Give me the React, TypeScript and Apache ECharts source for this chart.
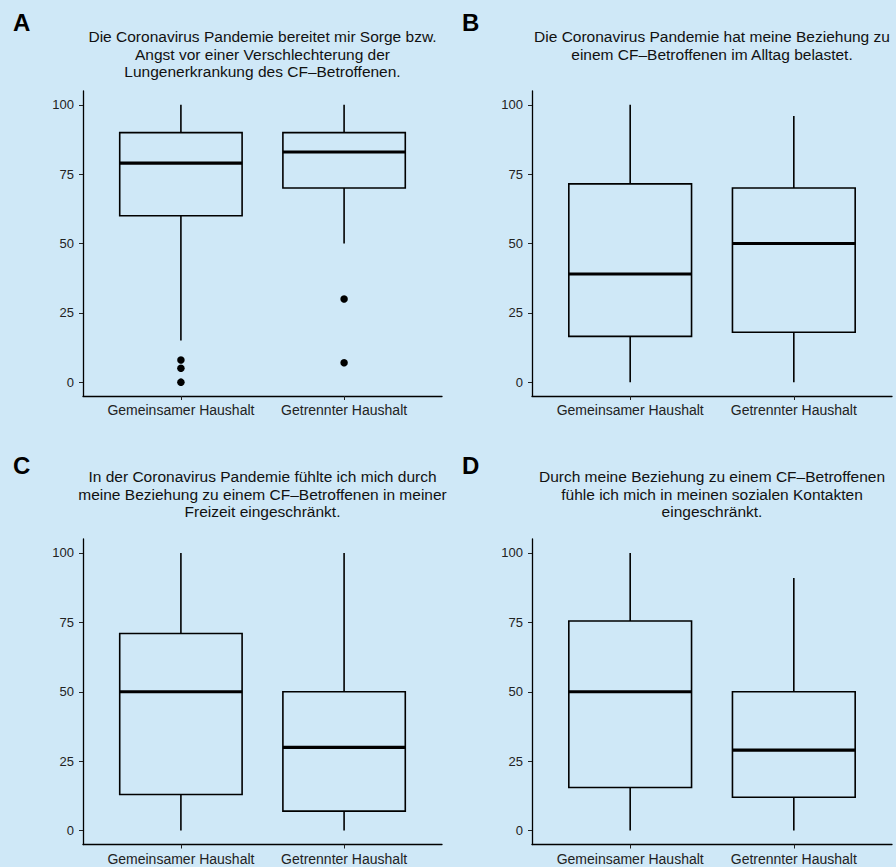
import React, { useEffect, useRef } from 'react';
import * as echarts from 'echarts';

const categories = ['Gemeinsamer Haushalt', 'Getrennter Haushalt'];
const yTicks = [0, 25, 50, 75, 100];
const xTicks = [1, 2];

const panelLetters = ['A', 'B', 'C', 'D'];
const panelTitles = [
  'Die Coronavirus Pandemie bereitet mir Sorge bzw.\nAngst vor einer Verschlechterung der\nLungenerkrankung des CF–Betroffenen.',
  'Die Coronavirus Pandemie hat meine Beziehung zu\neinem CF–Betroffenen im Alltag belastet.',
  'In der Coronavirus Pandemie fühlte ich mich durch\nmeine Beziehung zu einem CF–Betroffenen in meiner\nFreizeit eingeschränkt.',
  'Durch meine Beziehung zu einem CF–Betroffenen\nfühle ich mich in meinen sozialen Kontakten\neingeschränkt.',
];

// [lower whisker, Q1, median, Q3, upper whisker] per category
const boxesA = [[15, 60, 79, 90, 100], [50, 70, 83, 90, 100]];
const boxesB = [[0, 16.5, 39, 71.5, 100], [0, 18, 50, 70, 96]];
const boxesC = [[0, 13, 50, 71, 100], [0, 7, 30, 50, 100]];
const boxesD = [[0, 15.5, 50, 75.5, 100], [0, 12, 29, 50, 91]];

// [category position, value]
const outliersA = [[1, 8], [1, 5], [1, 0], [2, 30], [2, 7]];
const outliersB: number[][] = [];
const outliersC: number[][] = [];
const outliersD: number[][] = [];

const allBoxes = [boxesA, boxesB, boxesC, boxesD];
const allOutliers = [outliersA, outliersB, outliersC, outliersD];

const FONT = '"Liberation Sans", Arial, Helvetica, sans-serif';
const BG = '#cfe8f7';

const grids = [
  { left: 83, top: 91, width: 359, height: 305 },
  { left: 532, top: 91, width: 360, height: 305 },
  { left: 83, top: 539, width: 359, height: 305.5 },
  { left: 532, top: 539, width: 360, height: 305.5 },
];
const letterY = [22, 22, 465, 465];
const titleTop = [28, 28, 468, 468];

export default function App() {
  const ref = useRef<HTMLDivElement>(null);

  useEffect(() => {
    if (!ref.current) return;
    const chart = echarts.init(ref.current, undefined, { renderer: 'svg' });

    const xAxis = grids.map((_, i) => ({
      type: 'value',
      gridIndex: i,
      min: 0.4,
      max: 2.6,
      axisLine: { show: true, onZero: false, lineStyle: { color: '#000', width: 1.3 } },
      axisTick: { show: true, customValues: xTicks, length: 4, lineStyle: { color: '#222', width: 1 } },
      axisLabel: {
        show: true,
        customValues: xTicks,
        formatter: (v: number) => categories[Math.round(v) - 1] || '',
        color: '#222',
        fontSize: 14,
        fontFamily: FONT,
        margin: 7,
      },
      splitLine: { show: false },
    }));

    const yAxis = grids.map((_, i) => ({
      type: 'value',
      gridIndex: i,
      min: -5,
      max: 105,
      axisLine: { show: true, onZero: false, lineStyle: { color: '#000', width: 1.3 } },
      axisTick: { show: true, customValues: yTicks, length: 4, lineStyle: { color: '#222', width: 1 } },
      axisLabel: {
        show: true,
        customValues: yTicks,
        color: '#222',
        fontSize: 13,
        fontFamily: FONT,
        margin: 9,
      },
      splitLine: { show: false },
    }));

    const series: any[] = [];
    allBoxes.forEach((boxes, i) => {
      series.push({
        type: 'custom',
        xAxisIndex: i,
        yAxisIndex: i,
        data: boxes.map((b, k) => [xTicks[k], ...b]),
        encode: { x: 0, y: [1, 2, 3, 4, 5] },
        renderItem: (params: any, api: any) => {
          const x = api.value(0);
          const lo = api.coord([x, api.value(1)]);
          const q1 = api.coord([x, api.value(2)]);
          const med = api.coord([x, api.value(3)]);
          const q3 = api.coord([x, api.value(4)]);
          const hi = api.coord([x, api.value(5)]);
          const w = api.size([0.75, 0])[0];
          const cx = lo[0];
          const left = cx - w / 2;
          const st = { stroke: '#000', lineWidth: 1.6, fill: null };
          return {
            type: 'group',
            children: [
              { type: 'line', shape: { x1: cx, y1: hi[1], x2: cx, y2: q3[1] }, style: st },
              { type: 'line', shape: { x1: cx, y1: q1[1], x2: cx, y2: lo[1] }, style: st },
              { type: 'rect', shape: { x: left, y: q3[1], width: w, height: q1[1] - q3[1] }, style: { ...st, fill: 'transparent' } },
              { type: 'line', shape: { x1: left, y1: med[1], x2: left + w, y2: med[1] }, style: { stroke: '#000', lineWidth: 3.2 } },
            ],
          };
        },
        silent: true,
      });
      series.push({
        type: 'scatter',
        xAxisIndex: i,
        yAxisIndex: i,
        data: allOutliers[i],
        symbol: 'circle',
        symbolSize: 7.5,
        itemStyle: { color: '#000', opacity: 1 },
        silent: true,
      });
    });

    const graphics: any[] = [];
    grids.forEach((g, i) => {
      const cx = g.left + g.width / 2;
      graphics.push({
        type: 'text',
        x: g.left - 70,
        y: letterY[i],
        style: {
          text: panelLetters[i],
          font: `bold 24px ${FONT}`,
          fill: '#000',
          verticalAlign: 'middle',
          align: 'left',
        },
      });
      graphics.push({
        type: 'text',
        x: cx,
        y: titleTop[i],
        style: {
          text: panelTitles[i],
          fontSize: 15.5,
          fontFamily: FONT,
          lineHeight: 17.5,
          fill: '#111',
          align: 'center',
          verticalAlign: 'top',
        },
      });
    });

    chart.setOption({
      animation: false,
      backgroundColor: BG,
      grid: grids.map((g) => ({ ...g, containLabel: false })),
      xAxis,
      yAxis,
      series,
      graphic: graphics,
    });

    return () => chart.dispose();
  }, []);

  return (
    <div
      ref={ref}
      style={{ position: 'fixed', left: 0, top: 0, width: 896, height: 867 }}
    />
  );
}
